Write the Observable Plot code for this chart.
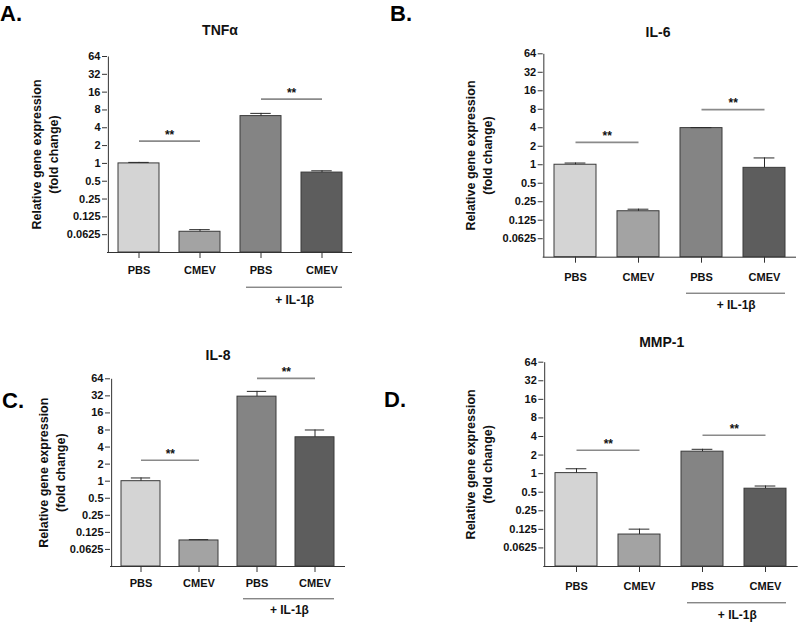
<!DOCTYPE html>
<html><head><meta charset="utf-8">
<script src="https://cdn.jsdelivr.net/npm/d3@7"></script>
<script src="https://cdn.jsdelivr.net/npm/@observablehq/plot@0.6"></script>
<style>
body{margin:0;background:#fff;}
#fig{position:relative;width:800px;height:622px;overflow:hidden;font-family:"Liberation Sans",Arial,sans-serif;color:#111;}
.panel{position:absolute;}
.letter{position:absolute;font-family:"Liberation Sans",Arial,sans-serif;font-weight:700;font-size:22px;line-height:normal;color:#000;white-space:nowrap;}
.title{position:absolute;font-family:"Liberation Sans",Arial,sans-serif;font-weight:700;font-size:14px;line-height:1;transform:translateX(-50%);white-space:nowrap;color:#111;}
</style></head><body><div id="fig"></div>
<script>
// ---- data ----
const categories = ["PBS", "CMEV", "PBS + IL-1β", "CMEV + IL-1β"];
const xTickLabels = ["PBS", "CMEV", "PBS", "CMEV"];
const yTicks = [0.0625, 0.125, 0.25, 0.5, 1, 2, 4, 8, 16, 32, 64];
const yTickLabels = ["0.0625", "0.125", "0.25", "0.5", "1", "2", "4", "8", "16", "32", "64"];
const panelLetters = ["A.", "B.", "C.", "D."];
const panelTitles = ["TNFα", "IL-6", "IL-8", "MMP-1"];
const yLabelLines = ["Relative gene expression", "(fold change)"];
const groupLabel = "+ IL-1β";
const sigLabel = "**";

const tnfMean = [1.0, 0.070, 6.3, 0.70];
const tnfErr  = [1.04, 0.076, 7.0, 0.75];
const tnfSig  = [2.38, 12.2];

const il6Mean = [1.0, 0.175, 3.95, 0.89];
const il6Err  = [1.066, 0.189, 4.02, 1.29];
const il6Sig  = [2.31, 7.9];

const il8Mean = [1.0, 0.090, 31, 5.95];
const il8Err  = [1.14, 0.093, 38.4, 8.0];
const il8Sig  = [2.34, 65];

const mmpMean = [1.02, 0.103, 2.27, 0.57];
const mmpErr  = [1.2, 0.126, 2.48, 0.63];
const mmpSig  = [2.39, 4.18];

const barColors = ["#d4d4d4", "#a3a3a3", "#848484", "#5d5d5d"];

// ---- layout ----
const layout = [
  {left:0,   top:0,   width:400, height:310, mL:107,   mR:48,  mT:56,   mB:58,   xPad:8,  yLabDx:-63.5, brDy:34.7, grDy:48,
   letter:{x:0, y:0.5},   title:{x:220, y:23}},
  {left:400, top:0,   width:400, height:310, mL:142.7, mR:4,   mT:53.3, mB:53.3, xPad:10, yLabDx:-65.3, brDy:36,   grDy:48.3,
   letter:{x:390, y:0.5}, title:{x:658, y:25}},
  {left:0,   top:310, width:400, height:312, mL:110,   mR:55,  mT:68.3, mB:56,   xPad:7,  yLabDx:-59.2, brDy:32.3, grDy:44,
   letter:{x:2, y:388}, title:{x:218, y:348}},
  {left:400, top:310, width:400, height:312, mL:143.3, mR:2.3, mT:51.7, mB:56,   xPad:10, yLabDx:-65.5, brDy:36.3, grDy:49,
   letter:{x:384, y:387}, title:{x:661.7, y:335}}
];

const fig = document.getElementById("fig");

function makePanel(k, mean, err, sig) {
  const L = layout[k];
  const rows = categories.map((c, i) => ({cat: c, mean: mean[i], err: err[i], fill: barColors[i]}));
  const step = (L.width - L.mL - L.mR) / categories.length;
  const bw = step * (1 - 0.33);
  const sigRows = [
    {a: categories[0], b: categories[1], y: sig[0]},
    {a: categories[2], b: categories[3], y: sig[1]}
  ];
  const base = yTicks[0] / 2;
  const top = yTicks[yTicks.length - 1];
  const svg = Plot.plot({
    width: L.width, height: L.height,
    marginLeft: L.mL, marginRight: L.mR, marginTop: L.mT, marginBottom: L.mB,
    x: {type: "band", domain: categories, paddingInner: 0.33, paddingOuter: 0.165, label: null},
    y: {type: "log", base: 2, domain: [base, top], label: null},
    style: {fontFamily: "Liberation Sans, Arial, sans-serif", fontWeight: "bold", color: "#111", background: "transparent", overflow: "visible"},
    marks: [
      Plot.barY(rows, {x: "cat", y1: base, y2: "mean", fill: "fill", stroke: "#3a3a3a", strokeWidth: 1}),
      Plot.ruleX(rows, {x: "cat", y1: "mean", y2: "err", stroke: "#2a2a2a", strokeWidth: 1}),
      Plot.tickY(rows, {x: "cat", y: "err", stroke: "#2a2a2a", strokeWidth: 1, insetLeft: bw / 4, insetRight: bw / 4}),
      Plot.link(sigRows, {x1: "a", x2: "b", y1: "y", y2: "y", stroke: "#8a8a8a", strokeWidth: 1.6}),
      Plot.text(sigRows, {x: "a", y: "y", text: () => sigLabel, dx: step / 2, dy: -6, fontSize: 12, fill: "#111"}),
      // axis lines
      Plot.ruleY([base], {stroke: "#333"}),
      Plot.link([categories[0]], {x1: d => d, x2: d => d, y1: () => base, y2: () => top, dx: -step / 2, stroke: "#333"}),
      Plot.axisY({ticks: yTicks, tickFormat: d => yTickLabels[yTicks.indexOf(d)], tickSize: 5, tickPadding: 2, fontSize: 11, label: null, stroke: "#333"}),
      Plot.axisX({tickSize: 6, tickPadding: L.xPad, fontSize: 11, label: null, tickFormat: d => xTickLabels[categories.indexOf(d)], stroke: "#333"}),
      // + IL-1β group bracket
      Plot.ruleY([base], {x1: [categories[2]], x2: [categories[3]], dy: L.brDy, insetLeft: 6, stroke: "#555", strokeWidth: 1}),
      Plot.text([groupLabel], {x: [categories[2]], y: [base], dx: step / 2 + 3, dy: L.grDy, fontSize: 12, fill: "#111"}),
      // y label
      Plot.text([yLabelLines.join("\n")], {frameAnchor: "left", textAnchor: "middle", lineAnchor: "middle", rotate: -90, dx: L.yLabDx, fontSize: 12.5, lineHeight: 1.35, fill: "#111"})
    ]
  });
  svg.classList.add("panel");
  svg.style.left = L.left + "px";
  svg.style.top = L.top + "px";
  fig.appendChild(svg);

  const letter = document.createElement("div");
  letter.className = "letter";
  letter.textContent = panelLetters[k];
  letter.style.left = L.letter.x + "px";
  letter.style.top = L.letter.y + "px";
  fig.appendChild(letter);

  const title = document.createElement("div");
  title.className = "title";
  title.textContent = panelTitles[k];
  title.style.left = L.title.x + "px";
  title.style.top = L.title.y + "px";
  fig.appendChild(title);
}

makePanel(0, tnfMean, tnfErr, tnfSig);
makePanel(1, il6Mean, il6Err, il6Sig);
makePanel(2, il8Mean, il8Err, il8Sig);
makePanel(3, mmpMean, mmpErr, mmpSig);
</script>
</body></html>
